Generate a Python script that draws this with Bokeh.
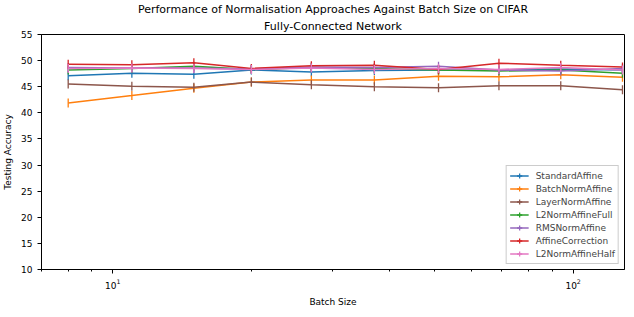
import math
from bokeh.plotting import figure
from bokeh.models import (Title, FixedTicker, LogTickFormatter, Legend, LegendItem, Range1d)
from bokeh.embed import file_html
from bokeh.resources import INLINE

batch_sizes = [8, 11, 15, 20, 27, 37, 51, 69, 94, 128]

standard_affine = [47.1, 47.6, 47.4, 48.2, 47.8, 48.1, 48.2, 48.2, 48.4, 48.2]
batchnorm_affine = [41.9, 43.3, 44.7, 45.9, 46.3, 46.3, 47.0, 46.9, 47.3, 46.8]
layernorm_affine = [45.5, 45.1, 44.9, 45.9, 45.4, 45.0, 44.8, 45.2, 45.2, 44.4]
l2norm_affine_full = [48.2, 48.5, 48.9, 48.3, 48.7, 48.5, 48.2, 48.0, 48.2, 47.6]
rmsnorm_affine = [48.7, 48.6, 48.6, 48.4, 48.8, 48.7, 48.9, 48.2, 48.0, 48.5]
affine_correction = [49.3, 49.2, 49.6, 48.5, 49.0, 49.1, 48.3, 49.5, 49.1, 48.8]
l2norm_affine_half = [48.5, 48.6, 48.5, 48.3, 48.6, 48.3, 48.5, 48.3, 48.7, 48.2]

series_names = ["StandardAffine", "BatchNormAffine", "LayerNormAffine", "L2NormAffineFull",
                "RMSNormAffine", "AffineCorrection", "L2NormAffineHalf"]
series_values = [standard_affine, batchnorm_affine, layernorm_affine, l2norm_affine_full,
                 rmsnorm_affine, affine_correction, l2norm_affine_half]
colors = ["#1f77b4", "#ff7f0e", "#8c564b", "#2ca02c", "#9467bd", "#d62728", "#e377c2"]

y_ticks = [10, 15, 20, 25, 30, 35, 40, 45, 50, 55]

FONT = "DejaVu Sans"

p = figure(width=625, height=309, x_axis_type="log", output_backend="svg",
           toolbar_location=None, x_range=Range1d(7.0, 129.3), y_range=Range1d(10, 55),
           min_border_left=31, min_border_right=1, min_border_top=2, min_border_bottom=40)

p.add_layout(Title(text="Fully-Connected Network", align="center", text_font=FONT,
                   text_font_size="11px", text_font_style="normal", text_color="black",
                   standoff=4), "above")
p.add_layout(Title(text="Performance of Normalisation Approaches Against Batch Size on CIFAR",
                   align="center", text_font=FONT, text_font_size="11px",
                   text_font_style="normal", text_color="black", standoff=0), "above")

p.xgrid.visible = False
p.ygrid.visible = False
p.outline_line_color = "black"
p.outline_line_width = 1

minor = [m * 10 ** e for e in (0, 1) for m in range(2, 10)]
p.xaxis.ticker = FixedTicker(ticks=[10, 100], minor_ticks=minor)
p.xaxis.formatter = LogTickFormatter()
p.yaxis.ticker = FixedTicker(ticks=y_ticks, minor_ticks=[])
for ax in (p.xaxis[0], p.yaxis[0]):
    ax.major_label_text_font = FONT
    ax.major_label_text_font_size = "9px"
    ax.major_label_text_color = "black"
    ax.axis_label_text_font = FONT
    ax.axis_label_text_font_size = "9px"
    ax.axis_label_text_font_style = "normal"
    ax.axis_label_text_color = "black"
    ax.major_tick_out = 4
    ax.major_tick_in = 0
    ax.minor_tick_out = 2
    ax.minor_tick_in = 0
    ax.axis_line_color = "black"
    ax.major_tick_line_color = "black"
    ax.minor_tick_line_color = "black"
p.xaxis.axis_label = "Batch Size"
p.yaxis.axis_label = "Testing Accuracy"

items = []
for name, vals, c in zip(series_names, series_values, colors):
    ln = p.line(batch_sizes, vals, line_color=c, line_width=1.5)
    p.scatter(batch_sizes, vals, marker="dash", angle=math.pi / 2, size=9,
              line_color=c, line_width=1.3)
    # legend-only glyph (NaN coordinates are never drawn on the plot)
    lg = p.scatter(x=[batch_sizes[0]], y=[float("nan")], marker="cross", size=9,
                   line_color=c, line_width=1.3)
    items.append(LegendItem(label=name, renderers=[ln, lg]))

legend = Legend(items=items, location="bottom_right", label_text_font=FONT,
                label_text_font_size="9px", glyph_height=13, glyph_width=19,
                spacing=0, padding=3, margin=5, label_height=13, label_standoff=7,
                border_line_color="#cccccc", border_line_alpha=1.0,
                background_fill_alpha=0.9)
p.add_layout(legend)

open("out.html", "w").write(file_html(p, INLINE))
